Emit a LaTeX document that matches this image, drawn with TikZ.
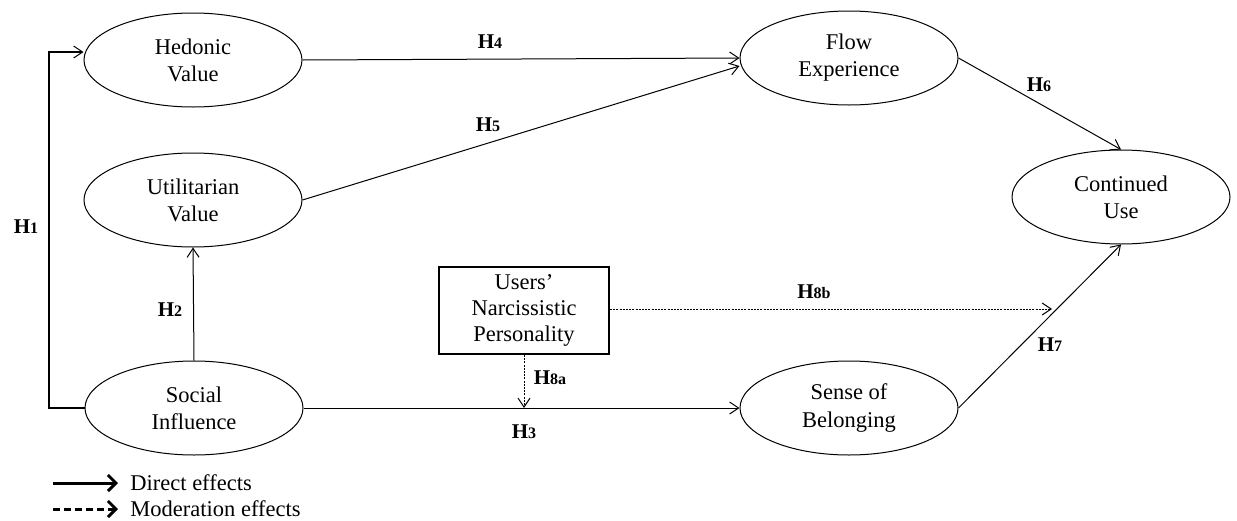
\documentclass[tikz,border=0pt]{standalone}
\usepackage{fontspec}
\setmainfont{Liberation Serif}
\usetikzlibrary{arrows.meta,shapes.geometric}
\newcommand{\hyp}[1]{{\fontsize{10.5}{12}\selectfont\textbf{H}}{\fontsize{8}{10}\selectfont\textbf{#1}}}

\begin{document}
\begin{tikzpicture}[x=0.5pt,y=-0.5pt,
        construct/.style={draw,ellipse,line width=0.5pt,minimum width=109pt,minimum height=47pt,inner sep=0pt,align=center,font=\fontsize{11.25}{13.5}\selectfont},
        moderator/.style={draw,rectangle,line width=1pt,minimum width=85pt,minimum height=43.5pt,inner sep=0pt,align=center,font=\fontsize{11.25}{13}\selectfont},
        direct/.style={-{Straight Barb[length=4.5pt,width=6pt,line width=0.5pt]},line width=0.5pt},
        moder/.style={-{Straight Barb[length=4.5pt,width=6pt,line width=0.5pt]},line width=0.5pt,dash pattern=on 1pt off 0.6pt},
        hlabel/.style={inner sep=0pt},
        legtext/.style={anchor=west,inner sep=0pt,font=\fontsize{11.25}{13.5}\selectfont}]
    \useasboundingbox (0,0) rectangle (1237,520);
    % constructs
    \node[construct] (hedonic) at (193,60) {Hedonic\\Value};
    \node[construct] (utilitarian) at (193,200) {Utilitarian\\Value};
    \node[construct] (social) at (194,408) {Social\\Influence};
    \node[construct] (flow) at (849,58) {Flow\\Experience};
    \node[construct] (continued) at (1121,197) {Continued\\Use};
    \node[construct] (belonging) at (849,408) {Sense of\\Belonging};
    \node[moderator] (narc) at (524,310.5) {Users’\\Narcissistic\\Personality};
    % paths
    \draw[direct,line width=1pt] (social.west) -- ++(-36,0) |- ([yshift=4pt]hedonic.west);
    \draw[direct] (social.north) -- (utilitarian.south);
    \draw[direct] (social.east) -- (belonging.west);
    \draw[direct] (hedonic.east) -- (flow.west);
    \draw[direct] (utilitarian.east) -- ([yshift=-4pt]flow.west);
    \draw[direct] (flow.east) -- (continued.north);
    \draw[direct] (belonging.east) -- (continued.south);
    \coordinate (h8bend) at (1052,309);
    \draw[moder] (narc.south) -- (narc.south |- social.east);
    \draw[moder] (narc.east |- h8bend) -- (h8bend);
    % hypotheses
    \node[hlabel] (h1) at (26,227) {\hyp{1}};
    \node[hlabel] (h2) at (170,310) {\hyp{2}};
    \node[hlabel] (h3) at (524,432) {\hyp{3}};
    \node[hlabel] (h4) at (490,42) {\hyp{4}};
    \node[hlabel] (h5) at (488,125) {\hyp{5}};
    \node[hlabel] (h6) at (1039,85) {\hyp{6}};
    \node[hlabel] (h7) at (1050,345) {\hyp{7}};
    \node[hlabel] (h8a) at (550,378) {\hyp{8a}};
    \node[hlabel] (h8b) at (814,292) {\hyp{8b}};
    % legend
    \coordinate (dirA) at (53,483);
    \coordinate (dirB) at (118,483);
    \coordinate (modA) at (53,509);
    \coordinate (modB) at (118,509);
    \draw[-{Straight Barb[length=4pt,width=8pt]},line width=1.5pt] (dirA) -- (dirB);
    \draw[-{Straight Barb[length=4pt,width=8pt,line width=1.5pt]},line width=1.5pt,dash pattern=on 3.5pt off 2pt] (modA) -- (modB);
    \node[legtext] (dirtext) at (130,483) {Direct effects};
    \node[legtext] (modtext) at (130,509) {Moderation effects};
\end{tikzpicture}
\end{document}
